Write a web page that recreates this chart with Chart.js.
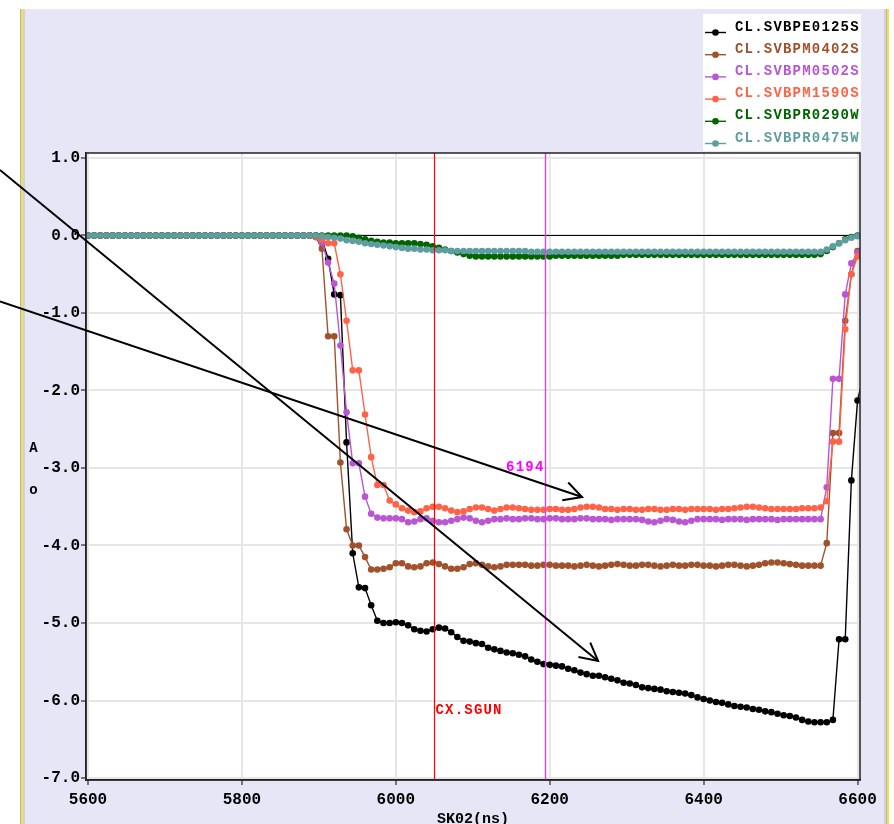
<!DOCTYPE html>
<html><head><meta charset="utf-8">
<script src="https://cdn.jsdelivr.net/npm/chart.js@4/dist/chart.umd.min.js"></script>
<style>html,body{margin:0;padding:0;background:#fff;}#wrap{width:894px;height:824px;position:relative;}</style>
</head><body><div id="wrap"><canvas id="c"></canvas></div>
<script>
// ---- data (time in ns) ----
const TIMES = [
5600,5608,5616,5624,5632,5640,5648,5656,5664,5672,
5680,5688,5696,5704,5712,5720,5728,5736,5744,5752,
5760,5768,5776,5784,5792,5800,5808,5816,5824,5832,
5840,5848,5856,5864,5872,5880,5888,5896,5904,5912,
5920,5928,5936,5944,5952,5960,5968,5976,5984,5992,
6000,6008,6016,6024,6032,6040,6048,6056,6064,6072,
6080,6088,6096,6104,6112,6120,6128,6136,6144,6152,
6160,6168,6176,6184,6192,6200,6208,6216,6224,6232,
6240,6248,6256,6264,6272,6280,6288,6296,6304,6312,
6320,6328,6336,6344,6352,6360,6368,6376,6384,6392,
6400,6408,6416,6424,6432,6440,6448,6456,6464,6472,
6480,6488,6496,6504,6512,6520,6528,6536,6544,6552,
6560,6568,6576,6584,6592,6600,6608];

const SERIES_NAMES = ['CL.SVBPE0125S','CL.SVBPM0402S','CL.SVBPM0502S','CL.SVBPM1590S','CL.SVBPR0290W','CL.SVBPR0475W'];

const SVBPE0125S = [
0,0,0,0,0,0,0,0,0,0,
0,0,0,0,0,0,0,0,0,0,
0,0,0,0,0,0,0,0,0,0,
0,0,0,0,0,0,0,0,-0.05,-0.3,
-0.76,-0.77,-2.67,-4.1,-4.54,-4.55,-4.77,-4.97,-5.0,-5.0,
-4.99,-5.0,-5.03,-5.08,-5.1,-5.11,-5.08,-5.06,-5.07,-5.12,
-5.18,-5.23,-5.24,-5.26,-5.27,-5.32,-5.34,-5.36,-5.38,-5.39,
-5.41,-5.43,-5.47,-5.5,-5.53,-5.54,-5.55,-5.56,-5.59,-5.61,
-5.64,-5.66,-5.68,-5.68,-5.7,-5.72,-5.74,-5.77,-5.78,-5.8,
-5.83,-5.84,-5.85,-5.86,-5.88,-5.89,-5.9,-5.91,-5.93,-5.96,
-5.98,-6.0,-6.02,-6.03,-6.05,-6.07,-6.08,-6.09,-6.11,-6.12,
-6.14,-6.15,-6.17,-6.19,-6.2,-6.22,-6.25,-6.27,-6.28,-6.28,
-6.28,-6.25,-5.21,-5.21,-3.16,-2.13,-1.8];

const SVBPM0402S = [
0,0,0,0,0,0,0,0,0,0,
0,0,0,0,0,0,0,0,0,0,
0,0,0,0,0,0,0,0,0,0,
0,0,0,0,0,0,0,-0.02,-0.17,-1.3,
-1.3,-2.93,-3.79,-4.0,-4.0,-4.15,-4.31,-4.31,-4.3,-4.28,
-4.23,-4.23,-4.27,-4.28,-4.27,-4.23,-4.22,-4.24,-4.27,-4.3,
-4.3,-4.28,-4.24,-4.23,-4.25,-4.27,-4.28,-4.27,-4.25,-4.25,
-4.25,-4.25,-4.26,-4.26,-4.25,-4.25,-4.26,-4.26,-4.26,-4.27,
-4.26,-4.25,-4.26,-4.27,-4.26,-4.25,-4.24,-4.25,-4.26,-4.26,
-4.25,-4.25,-4.26,-4.27,-4.26,-4.25,-4.26,-4.26,-4.25,-4.25,
-4.26,-4.26,-4.27,-4.26,-4.25,-4.25,-4.26,-4.27,-4.26,-4.25,
-4.23,-4.22,-4.22,-4.23,-4.24,-4.25,-4.26,-4.26,-4.26,-4.26,
-3.97,-2.55,-2.55,-1.1,-0.5,-0.2];

const SVBPM0502S = [
0,0,0,0,0,0,0,0,0,0,
0,0,0,0,0,0,0,0,0,0,
0,0,0,0,0,0,0,0,0,0,
0,0,0,0,0,0,0,-0.02,-0.09,-0.35,
-0.62,-1.42,-2.28,-2.94,-2.94,-3.37,-3.59,-3.64,-3.65,-3.65,
-3.65,-3.66,-3.7,-3.69,-3.66,-3.65,-3.68,-3.7,-3.7,-3.68,
-3.66,-3.64,-3.65,-3.68,-3.7,-3.68,-3.66,-3.66,-3.65,-3.66,
-3.66,-3.65,-3.65,-3.66,-3.66,-3.65,-3.65,-3.66,-3.66,-3.66,
-3.65,-3.65,-3.66,-3.66,-3.66,-3.67,-3.66,-3.66,-3.66,-3.66,
-3.67,-3.69,-3.7,-3.68,-3.66,-3.67,-3.69,-3.7,-3.68,-3.66,
-3.66,-3.66,-3.66,-3.67,-3.66,-3.66,-3.66,-3.67,-3.66,-3.66,
-3.66,-3.66,-3.67,-3.66,-3.66,-3.66,-3.66,-3.66,-3.66,-3.66,
-3.25,-1.85,-1.85,-0.76,-0.36,-0.22];

const SVBPM1590S = [
0,0,0,0,0,0,0,0,0,0,
0,0,0,0,0,0,0,0,0,0,
0,0,0,0,0,0,0,0,0,0,
0,0,0,0,0,0,0,-0.02,-0.05,-0.1,
-0.1,-0.5,-1.1,-1.74,-1.74,-2.31,-2.86,-3.22,-3.22,-3.42,
-3.47,-3.52,-3.55,-3.57,-3.56,-3.52,-3.5,-3.5,-3.52,-3.55,
-3.57,-3.56,-3.53,-3.51,-3.51,-3.53,-3.55,-3.53,-3.51,-3.51,
-3.52,-3.53,-3.54,-3.54,-3.54,-3.53,-3.53,-3.54,-3.54,-3.53,
-3.51,-3.5,-3.5,-3.51,-3.53,-3.53,-3.54,-3.53,-3.53,-3.54,
-3.54,-3.53,-3.53,-3.54,-3.54,-3.53,-3.53,-3.54,-3.53,-3.53,
-3.53,-3.53,-3.54,-3.53,-3.53,-3.52,-3.51,-3.5,-3.5,-3.51,
-3.52,-3.53,-3.53,-3.53,-3.53,-3.53,-3.52,-3.52,-3.52,-3.51,
-3.43,-2.66,-2.66,-1.21,-0.5,-0.27];

const SVBPR0290W = [
0,0,0,0,0,0,0,0,0,0,
0,0,0,0,0,0,0,0,0,0,
0,0,0,0,0,0,0,0,0,0,
0,0,0,0,0,0,0,0,0,0,
0,0,0,-0.01,-0.03,-0.05,-0.07,-0.08,-0.09,-0.09,
-0.1,-0.1,-0.1,-0.1,-0.11,-0.12,-0.14,-0.16,-0.18,-0.2,
-0.22,-0.24,-0.26,-0.27,-0.27,-0.27,-0.27,-0.27,-0.27,-0.27,
-0.27,-0.27,-0.27,-0.27,-0.27,-0.27,-0.26,-0.26,-0.26,-0.26,
-0.26,-0.26,-0.26,-0.26,-0.26,-0.26,-0.26,-0.25,-0.25,-0.25,
-0.25,-0.25,-0.25,-0.25,-0.25,-0.25,-0.25,-0.25,-0.25,-0.25,
-0.25,-0.25,-0.25,-0.25,-0.25,-0.25,-0.25,-0.25,-0.25,-0.25,
-0.25,-0.25,-0.25,-0.25,-0.25,-0.25,-0.25,-0.25,-0.25,-0.24,
-0.2,-0.15,-0.1,-0.05,-0.02,0];

const SVBPR0475W = [
0,0,0,0,0,0,0,0,0,0,
0,0,0,0,0,0,0,0,0,0,
0,0,0,0,0,0,0,0,0,0,
0,0,0,0,0,0,0,0,-0.01,-0.02,
-0.03,-0.04,-0.06,-0.07,-0.08,-0.1,-0.11,-0.12,-0.13,-0.14,
-0.15,-0.16,-0.17,-0.17,-0.18,-0.18,-0.19,-0.19,-0.19,-0.2,
-0.2,-0.2,-0.2,-0.2,-0.2,-0.2,-0.2,-0.2,-0.2,-0.2,
-0.2,-0.2,-0.21,-0.21,-0.21,-0.21,-0.21,-0.21,-0.21,-0.21,
-0.21,-0.21,-0.21,-0.21,-0.21,-0.21,-0.21,-0.21,-0.21,-0.21,
-0.21,-0.21,-0.21,-0.21,-0.21,-0.21,-0.21,-0.21,-0.21,-0.21,
-0.21,-0.21,-0.21,-0.21,-0.21,-0.21,-0.21,-0.21,-0.21,-0.21,
-0.21,-0.21,-0.21,-0.21,-0.21,-0.21,-0.21,-0.21,-0.21,-0.21,
-0.18,-0.14,-0.1,-0.06,-0.03,-0.01];

const SERIES_VALUES = [SVBPE0125S, SVBPM0402S, SVBPM0502S, SVBPM1590S, SVBPR0290W, SVBPR0475W];
const X_TICKS = [5600, 5800, 6000, 6200, 6400, 6600];
const Y_TICKS = [1, 0, -1, -2, -3, -4, -5, -6, -7];
const MARKER_RED = 6050;      // CX.SGUN
const MARKER_MAGENTA = 6194;  // cursor
const X_TITLE = 'SK02(ns)';
const Y_TITLE = ['A', 'o'];

// ---- styles ----
const COLORS = ['#000000', '#A0522D', '#BA55D3', '#FF6347', '#006400', '#5F9EA0'];
const MONO = '"Liberation Mono", "DejaVu Sans Mono", monospace';

const datasets = SERIES_NAMES.map((name, k) => ({
  label: name,
  data: SERIES_VALUES[k].map((v, i) => ({x: TIMES[i], y: v})),
  borderColor: COLORS[k],
  backgroundColor: COLORS[k],
  pointBackgroundColor: COLORS[k],
  pointBorderColor: COLORS[k],
  borderWidth: 1.4,
  pointRadius: 3.3,
  pointBorderWidth: 0,
  tension: 0,
  order: SERIES_NAMES.length - k
}));

// arrows in data coordinates (start outside plot on the left)
const ARROWS = [
  {x0: 5485.6, y0: 0.845, x1: 6262.8, y1: -5.49},
  {x0: 5485.6, y0: -0.852, x1: 6242, y1: -3.374}
];

const decor = {
  id: 'decor',
  beforeDraw(chart) {
    const ctx = chart.ctx;
    const {left, top, right, bottom} = chart.chartArea;
    ctx.save();
    ctx.fillStyle = '#ffffff'; ctx.fillRect(0, 0, chart.width, chart.height);
    ctx.fillStyle = '#E6E6F6'; ctx.fillRect(20, 9, 868, chart.height - 9);
    ctx.fillStyle = '#b4b4bc'; ctx.fillRect(20, 9, 1, chart.height);
    ctx.fillStyle = '#F0E440'; ctx.fillRect(21, 9, 2, chart.height);
    ctx.fillStyle = '#d2d2da'; ctx.fillRect(23, 9, 2, chart.height);
    ctx.fillStyle = '#d2d2da'; ctx.fillRect(884, 9, 2, chart.height);
    ctx.fillStyle = '#b4b4bc'; ctx.fillRect(886, 9, 1, chart.height);
    ctx.fillStyle = '#F0E440'; ctx.fillRect(887, 9, 2, chart.height);
    ctx.fillStyle = '#ffffff'; ctx.fillRect(left, top, right - left, bottom - top);
    ctx.restore();
  },
  beforeDatasetsDraw(chart) {
    const ctx = chart.ctx;
    const {left, right} = chart.chartArea;
    const y0 = chart.scales.y.getPixelForValue(0);
    ctx.save();
    ctx.strokeStyle = '#000'; ctx.lineWidth = 1;
    ctx.beginPath(); ctx.moveTo(left, y0); ctx.lineTo(right, y0); ctx.stroke();
    ctx.restore();
  },
  afterDatasetsDraw(chart) {
    const ctx = chart.ctx;
    const {left, top, right, bottom} = chart.chartArea;
    const xs = chart.scales.x, ys = chart.scales.y;
    ctx.save();
    const xr = Math.round(xs.getPixelForValue(MARKER_RED)) + 0.5;
    ctx.strokeStyle = '#FF0000'; ctx.lineWidth = 1.2;
    ctx.beginPath(); ctx.moveTo(xr, top); ctx.lineTo(xr, bottom); ctx.stroke();
    const xm = Math.round(xs.getPixelForValue(MARKER_MAGENTA)) + 0.5;
    ctx.strokeStyle = '#E040E0'; ctx.lineWidth = 1.4;
    ctx.beginPath(); ctx.moveTo(xm, top); ctx.lineTo(xm, bottom); ctx.stroke();
    ctx.font = 'bold 14px ' + MONO;
    ctx.letterSpacing = '1.2px';
    ctx.textBaseline = 'middle';
    ctx.fillStyle = '#FF0000'; ctx.textAlign = 'left';
    ctx.fillText('CX.SGUN', xr + 1, ys.getPixelForValue(-6.0) + 10);
    ctx.fillStyle = '#FF00FF'; ctx.textAlign = 'right';
    ctx.fillText(String(MARKER_MAGENTA), xm - 1, ys.getPixelForValue(-3.0) - 1);
    ctx.letterSpacing = '0px';
    // plot border
    ctx.strokeStyle = '#222'; ctx.lineWidth = 1.5;
    ctx.strokeRect(left, top, right - left, bottom - top);
    ctx.restore();
  },
  afterDraw(chart) {
    const ctx = chart.ctx;
    const xs = chart.scales.x, ys = chart.scales.y;
    ctx.save();
    // legend
    ctx.fillStyle = '#ffffff'; ctx.fillRect(703, 14, 158, 137);
    ctx.font = 'bold 14px ' + MONO;
    ctx.letterSpacing = '1.2px';
    ctx.textBaseline = 'middle'; ctx.textAlign = 'left';
    SERIES_NAMES.forEach((name, k) => {
      const ty = 27 + k * 22.2;
      const my = ty + 5.5;
      ctx.strokeStyle = COLORS[k]; ctx.lineWidth = 1.4;
      ctx.beginPath(); ctx.moveTo(705, my); ctx.lineTo(726, my); ctx.stroke();
      ctx.fillStyle = COLORS[k];
      ctx.beginPath(); ctx.arc(715.5, my, 3.3, 0, Math.PI * 2); ctx.fill();
      ctx.fillText(name, 735, ty);
    });
    ctx.letterSpacing = '0px';
    // y title (stacked letters)
    ctx.fillStyle = '#000';
    ctx.font = 'bold 14px ' + MONO;
    ctx.textAlign = 'center';
    ctx.fillText(Y_TITLE[0], 33.5, 448);
    ctx.fillText(Y_TITLE[1], 33.5, 490);
    // arrows
    ctx.strokeStyle = '#000'; ctx.lineWidth = 2;
    ARROWS.forEach(a => {
      const px0 = xs.getPixelForValue(a.x0), py0 = ys.getPixelForValue(a.y0);
      const px1 = xs.getPixelForValue(a.x1), py1 = ys.getPixelForValue(a.y1);
      ctx.beginPath(); ctx.moveTo(px0, py0); ctx.lineTo(px1, py1); ctx.stroke();
      const ang = Math.atan2(py1 - py0, px1 - px0);
      const L = 20, h = Math.PI / 6.5;
      ctx.beginPath();
      ctx.moveTo(px1 - L * Math.cos(ang - h), py1 - L * Math.sin(ang - h));
      ctx.lineTo(px1, py1);
      ctx.lineTo(px1 - L * Math.cos(ang + h), py1 - L * Math.sin(ang + h));
      ctx.stroke();
    });
    ctx.restore();
  }
};

new Chart(document.getElementById('c'), {
  type: 'line',
  data: {datasets},
  options: {
    responsive: true,
    maintainAspectRatio: false,
    animation: false,
    devicePixelRatio: 1,
    layout: {padding: {top: 153, right: 34, bottom: 0, left: 0}},
    plugins: {legend: {display: false}, tooltip: {enabled: false}},
    scales: {
      x: {
        type: 'linear',
        min: 5597.4, max: 6603.2,
        afterFit(s) { s.height = 44; },
        afterBuildTicks(s) { s.ticks = X_TICKS.map(v => ({value: v})); },
        ticks: {
          stepSize: 200, includeBounds: false, autoSkip: false, maxRotation: 0,
          color: '#000', padding: 5,
          font: {family: MONO, size: 16, weight: 'bold'},
          callback: v => String(v)
        },
        grid: {color: '#e6e6e6', lineWidth: 2, tickColor: '#000', tickWidth: 1, tickLength: 5},
        border: {display: true, color: '#222', width: 1.5},
        title: {display: true, text: X_TITLE, color: '#000', padding: {top: 0, bottom: -3},
                font: {family: MONO, size: 15, weight: 'bold', lineHeight: 1}}
      },
      y: {
        min: -7.0258, max: 1.0645,
        afterFit(s) { s.width = 86; },
        afterBuildTicks(s) { s.ticks = Y_TICKS.map(v => ({value: v})); },
        ticks: {
          stepSize: 1, includeBounds: false, autoSkip: false,
          color: '#000', padding: 1,
          font: {family: MONO, size: 16, weight: 'bold'},
          callback: v => Number(v).toFixed(1)
        },
        grid: {color: '#e6e6e6', lineWidth: 2, tickColor: '#000', tickWidth: 1, tickLength: 5},
        border: {display: true, color: '#222', width: 1.5}
      }
    }
  },
  plugins: [decor]
});
</script>
</body></html>
